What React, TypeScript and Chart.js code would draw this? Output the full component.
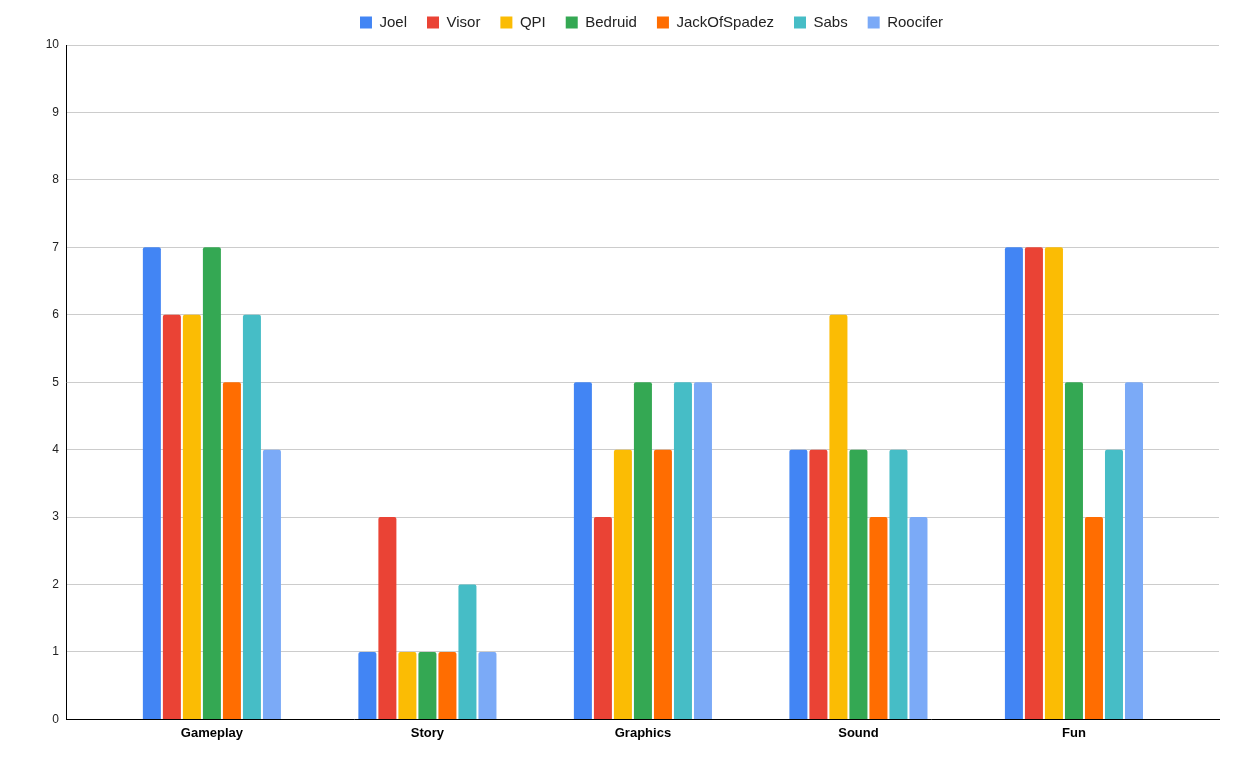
import React, { useEffect, useRef } from "react";
import { Chart, registerables } from "chart.js";

Chart.register(...registerables);

const categories = ["Gameplay", "Story", "Graphics", "Sound", "Fun"];
const seriesNames = ["Joel", "Visor", "QPI", "Bedruid", "JackOfSpadez", "Sabs", "Roocifer"];
const joel = [7, 1, 5, 4, 7];
const visor = [6, 3, 3, 4, 7];
const qpi = [6, 1, 4, 6, 7];
const bedruid = [7, 1, 5, 4, 5];
const jack = [5, 1, 4, 3, 3];
const sabs = [6, 2, 5, 4, 4];
const roocifer = [4, 1, 5, 3, 5];
const colors = ["#4285F4", "#EA4335", "#FBBC04", "#34A853", "#FF6D01", "#46BDC6", "#7BAAF7"];
const yTicks = [0, 1, 2, 3, 4, 5, 6, 7, 8, 9, 10];

const legendSpacing = {
  id: "legendSpacing",
  beforeInit(chart: any) {
    const legend = chart.legend;
    if (!legend) return;
    const origFit = legend.fit;
    legend.fit = function () {
      origFit.call(this);
      this.height += 5;
    };
  },
  afterLayout(chart: any) {
    const legend = chart.legend;
    if (!legend) return;
    legend.left += 84;
  },
};

export default function App() {
  const ref = useRef<HTMLCanvasElement | null>(null);
  useEffect(() => {
    if (!ref.current) return;
    const values = [joel, visor, qpi, bedruid, jack, sabs, roocifer];
    const chart = new Chart(ref.current, {
      type: "bar",
      data: {
        labels: categories,
        datasets: seriesNames.map((name, i) => ({
          label: name,
          data: values[i],
          backgroundColor: colors[i],
          borderWidth: 0,
          borderRadius: { topLeft: 2, topRight: 2, bottomLeft: 0, bottomRight: 0 },
          borderSkipped: "bottom" as const,
          categoryPercentage: 0.65,
          barPercentage: 0.9,
        })),
      },
      plugins: [legendSpacing],
      options: {
        animation: false,
        responsive: true,
        maintainAspectRatio: false,
        layout: { padding: { left: 0, right: 39, top: -5, bottom: 31 } },
        plugins: {
          legend: {
            position: "top",
            labels: {
              boxWidth: 12,
              boxHeight: 12,
              font: { family: "Liberation Sans, Arial, sans-serif", size: 15 },
              color: "#222222",
              padding: 20,
            },
          },
          tooltip: { enabled: false },
        },
        scales: {
          x: {
            offset: false,
            afterBuildTicks: (scale: any) => {
              scale._startValue = -0.677;
              scale._valueRange = 5.35;
            },
            grid: { display: false, drawTicks: false },
            border: { color: "#000000", width: 1 },
            ticks: {
              color: "#000000",
              font: { family: "Liberation Sans, Arial, sans-serif", size: 13, weight: "bold" },
              padding: 6,
            },
          },
          y: {
            min: 0,
            max: 10,
            afterFit: (scale: any) => {
              scale.width = 66;
            },
            afterBuildTicks: (scale: any) => {
              scale.ticks = yTicks.map((v) => ({ value: v }));
            },
            grid: { color: "#cccccc", drawTicks: false },
            border: { color: "#000000", width: 1 },
            ticks: {
              color: "#222222",
              font: { family: "Liberation Sans, Arial, sans-serif", size: 12 },
              padding: 7,
            },
          },
        },
      },
    });
    return () => chart.destroy();
  }, []);
  return (
    <div style={{ position: "fixed", left: 0, top: 0, width: 1258, height: 778, background: "#fff" }}>
      <canvas ref={ref} />
    </div>
  );
}
